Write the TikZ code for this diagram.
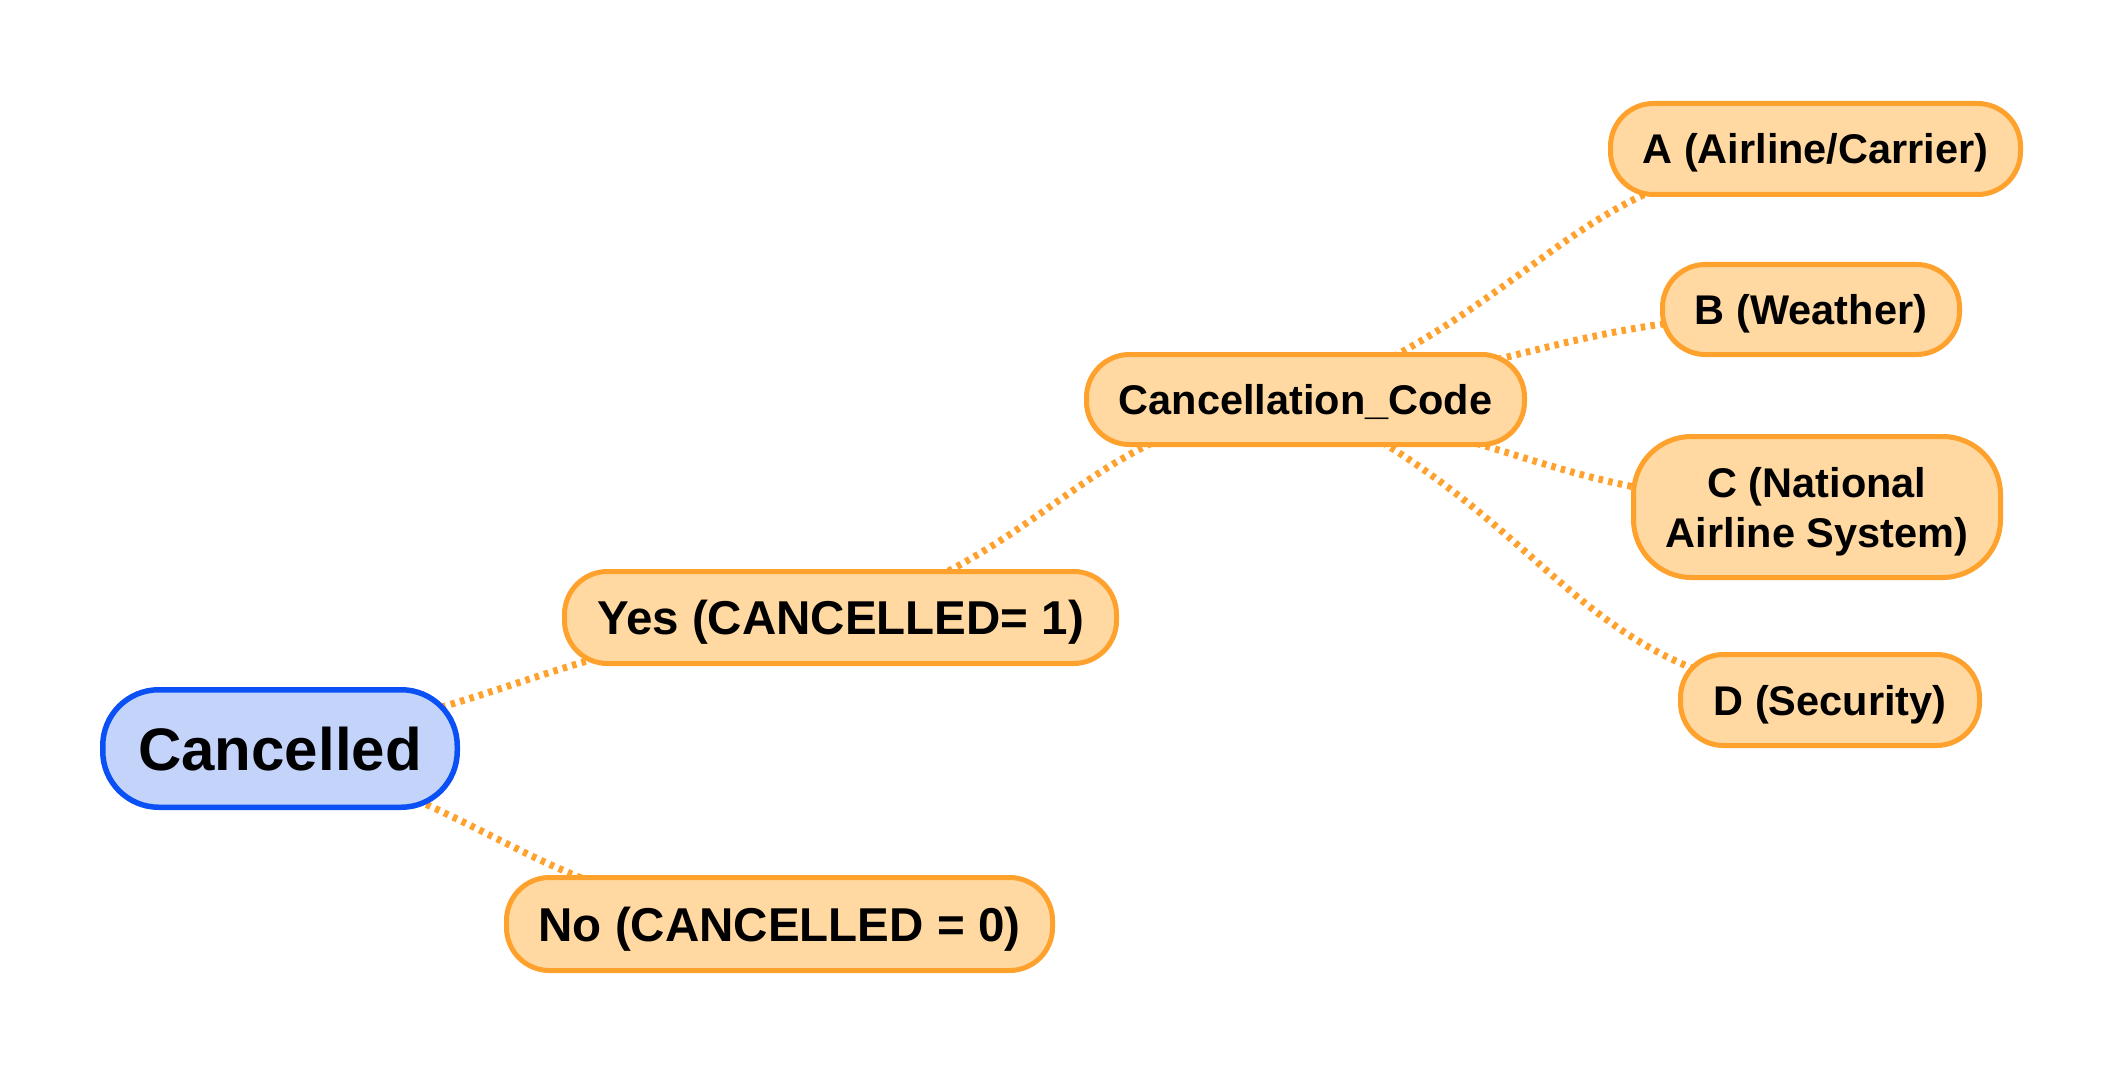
\documentclass[tikz,border=0pt]{standalone}
\usepackage{fontspec}
\setmainfont{Liberation Sans}
\definecolor{ostroke}{RGB}{255,161,45}
\definecolor{ofill}{RGB}{255,217,161}
\definecolor{bstroke}{RGB}{10,80,245}
\definecolor{bfill}{RGB}{195,211,250}
\pgfdeclarelayer{bg}
\pgfsetlayers{bg,main}
\begin{document}
\begin{tikzpicture}[x=1pt,y=-1pt,
  onode/.style={draw=ostroke,fill=ofill,line width=5pt,rounded corners=43pt,
    inner sep=0pt,align=center,text=black,text height=30pt,text depth=0pt,
    font=\bfseries\fontsize{41.5pt}{50pt}\selectfont},
  bignode/.style={onode,text height=34.5pt,
    font=\bfseries\fontsize{47.5pt}{56pt}\selectfont},
  bnode/.style={draw=bstroke,fill=bfill,line width=5.5pt,rounded corners=56pt,
    inner sep=0pt,align=center,text=black,text height=43.5pt,text depth=0pt,
    font=\bfseries\fontsize{60pt}{70pt}\selectfont},
  link/.style={draw=ostroke,line width=7pt,dash pattern=on 4.5pt off 5.3pt}]
\useasboundingbox (0,0) rectangle (2124,1075);
\begin{pgfonlayer}{bg}
\fill[white] (0,0) rectangle (2124,1075);
\end{pgfonlayer}

\node[bnode,minimum width=354.5pt,minimum height=117.5pt] (cancelled) at (280,748.5) {Cancelled};
\node[bignode,minimum width=552pt,minimum height=92pt] (yes) at (840.5,617.5) {Yes (CANCELLED= 1)};
\node[bignode,minimum width=546pt,minimum height=93pt] (no) at (779.5,924) {No (CANCELLED = 0)};
\node[onode,minimum width=438pt,minimum height=90pt] (cc) at (1305.5,399.5) {Cancellation\_Code};
\node[onode,minimum width=410pt,minimum height=91pt] (a) at (1815.5,149) {A (Airline/Carrier)};
\node[onode,minimum width=297pt,minimum height=90pt] (b) at (1811,309.5) {B (Weather)};
\node[onode,minimum width=367pt,minimum height=141pt,rounded corners=58pt,text height=80pt] (c) at (1817,507) {C (National\\Airline System)};
\node[onode,minimum width=299pt,minimum height=91pt] (d) at (1830,700) {D (Security)};

\begin{pgfonlayer}{bg}
\draw[link] (cancelled.center) .. controls +(280,-61) and +(-280,24) .. (yes.center);
\draw[link] (cancelled.center) .. controls +(250,80) and +(-250,-30) .. (no.center);
\draw[link] (yes.center) .. controls +(232,-80) and +(-232,32) .. (cc.center);
\draw[link] (cc.center) .. controls +(255,-110) and +(-255,31) .. (a.center);
\draw[link] (cc.center) .. controls +(253,-43) and +(-253,16) .. (b.center);
\draw[link] (cc.center) .. controls +(256,55) and +(-256,-13) .. (c.center);
\draw[link] (cc.center) .. controls +(262,130) and +(-262,-26) .. (d.center);
\end{pgfonlayer}
\end{tikzpicture}
\end{document}
